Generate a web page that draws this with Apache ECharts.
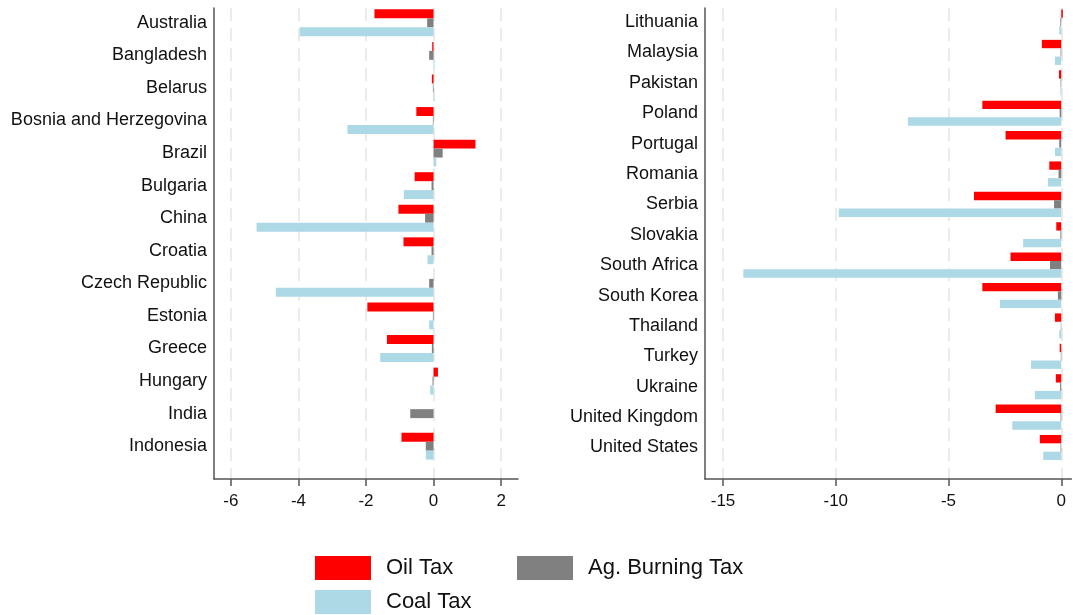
<!DOCTYPE html>
<html>
<head>
<meta charset="utf-8">
<script src="https://cdn.jsdelivr.net/npm/echarts@6/dist/echarts.min.js"></script>
<style>
  html, body { margin: 0; padding: 0; background: #fff; }
  #chart { width: 1073px; height: 615px; }
</style>
</head>
<body>
<div id="chart"></div>
<script>
// left panel
const leftCountries = ['Australia', 'Bangladesh', 'Belarus', 'Bosnia and Herzegovina', 'Brazil', 'Bulgaria',
  'China', 'Croatia', 'Czech Republic', 'Estonia', 'Greece', 'Hungary', 'India', 'Indonesia'];
const leftOil = [-1.75, -0.04, -0.05, -0.51, 1.24, -0.56, -1.04, -0.89, 0, -1.96, -1.38, 0.13, 0, -0.95];
const leftAg = [-0.19, -0.13, -0.02, -0.02, 0.27, -0.06, -0.25, -0.06, -0.13, -0.02, -0.05, -0.03, -0.69, -0.23];
const leftCoal = [-3.96, 0.03, 0.02, -2.55, 0.08, -0.88, -5.24, -0.18, -4.67, -0.13, -1.58, -0.1, 0, -0.23];
const leftTicks = [-6, -4, -2, 0, 2];

// right panel
const rightCountries = ['Lithuania', 'Malaysia', 'Pakistan', 'Poland', 'Portugal', 'Romania', 'Serbia',
  'Slovakia', 'South Africa', 'South Korea', 'Thailand', 'Turkey', 'Ukraine', 'United Kingdom', 'United States'];
const rightOil = [0.07, -0.86, -0.1, -3.5, -2.47, -0.53, -3.87, -0.22, -2.25, -3.5, -0.28, -0.07, -0.24, -2.91, -0.95];
const rightAg = [-0.04, -0.03, -0.03, -0.07, -0.09, -0.12, -0.32, -0.04, -0.5, -0.15, -0.02, -0.02, -0.05, -0.03, -0.03];
const rightCoal = [-0.09, -0.28, -0.04, -6.8, -0.28, -0.59, -9.87, -1.69, -14.1, -2.72, -0.09, -1.34, -1.17, -2.17, -0.8];
const rightTicks = [-15, -10, -5, 0];

const seriesNames = ['Oil Tax', 'Ag. Burning Tax', 'Coal Tax'];
const colors = ['#ff0000', '#808080', '#add8e6'];

const font = "'Liberation Sans', Arial, sans-serif";
const chart = echarts.init(document.getElementById('chart'));

function frameX(gridIndex, min, max, ticks) {
  return {
    type: 'value', gridIndex: gridIndex, min: min, max: max,
    axisLine: { show: true, onZero: false, lineStyle: { color: '#555', width: 1.5 } },
    axisTick: { show: true, length: 7, customValues: ticks, lineStyle: { color: '#555', width: 1.5 } },
    axisLabel: { show: true, customValues: ticks, margin: 14, fontSize: 17, color: '#111', fontFamily: font },
    splitLine: { show: true, lineStyle: { color: '#ebebeb', width: 2, type: [13, 7] } }
  };
}
function hiddenX(gridIndex, min, max) {
  return {
    type: 'value', gridIndex: gridIndex, min: min, max: max,
    axisLine: { show: false }, axisTick: { show: false }, axisLabel: { show: false }, splitLine: { show: false }
  };
}
function catY(gridIndex, cats) {
  return {
    type: 'category', gridIndex: gridIndex, data: cats, inverse: true,
    axisLine: { show: false, onZero: false }, axisTick: { show: false },
    axisLabel: { margin: 7, fontSize: 18, color: '#111', fontFamily: font },
    splitLine: { show: false }
  };
}
function frameY(gridIndex) {
  return {
    type: 'value', gridIndex: gridIndex, min: 0, max: 1,
    axisLine: { show: true, onZero: false, lineStyle: { color: '#555', width: 1.5 } },
    axisTick: { show: false }, axisLabel: { show: false }, splitLine: { show: false }
  };
}
function bars(axisIndex, oil, ag, coal) {
  return [oil, ag, coal].map((vals, i) => ({
    type: 'bar', name: seriesNames[i], xAxisIndex: axisIndex, yAxisIndex: axisIndex,
    data: vals, barGap: '0%', barCategoryGap: '17.5%',
    itemStyle: { color: colors[i] }, silent: true
  }));
}
function legendAt(name, left, top) {
  return {
    data: [name], left: left, top: top, orient: 'horizontal', padding: 0,
    icon: 'rect', itemWidth: 56, itemHeight: 24, selectedMode: false,
    textStyle: { fontSize: 22, color: '#111', fontFamily: font, padding: [0, 0, 0, 10] }
  };
}

chart.setOption({
  animation: false,
  textStyle: { fontFamily: font },
  grid: [
    { left: 214, right: 555, top: 6.5, bottom: 152.5 },
    { left: 214, right: 555, top: 8, bottom: 136 },
    { left: 705, right: 1.6, top: 6.8, bottom: 152.3 },
    { left: 705, right: 1.6, top: 8, bottom: 136 }
  ],
  xAxis: [
    hiddenX(0, -6.5, 2.5),
    frameX(1, -6.5, 2.5, leftTicks),
    hiddenX(2, -15.8, 0.45),
    frameX(3, -15.8, 0.45, rightTicks)
  ],
  yAxis: [
    catY(0, leftCountries),
    frameY(1),
    catY(2, rightCountries),
    frameY(3)
  ],
  legend: [
    legendAt('Oil Tax', 315, 556),
    legendAt('Ag. Burning Tax', 517, 556),
    legendAt('Coal Tax', 315, 590)
  ],
  series: [
    ...bars(0, leftOil, leftAg, leftCoal),
    ...bars(2, rightOil, rightAg, rightCoal)
  ]
});
</script>
</body>
</html>
